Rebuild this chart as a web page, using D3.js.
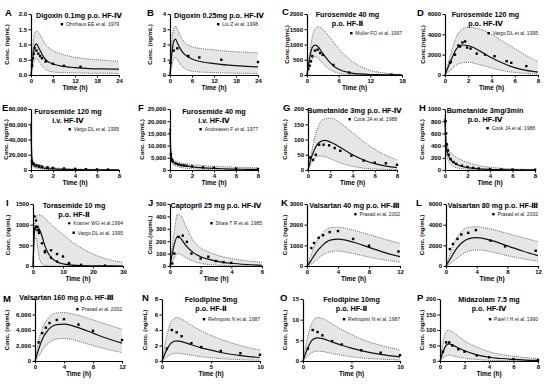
<!DOCTYPE html>
<html><head><meta charset="utf-8">
<script src="https://cdn.jsdelivr.net/npm/d3@7"></script>
<style>
body{margin:0;background:#fff}
svg{display:block}
text{font-family:"Liberation Sans",Arial,"DejaVu Sans",sans-serif}
</style>
</head><body>
<svg id="chart" width="550" height="388"></svg>
<script>
// ---------------- DATA ----------------
// A  Digoxin 0.1mg p.o. HF-IV
const A_t   = [0, 0.5, 1, 1.5, 2, 3, 4, 6, 8, 12, 16, 20, 24];
const A_med = [0, 0.55, 0.95, 1.02, 0.92, 0.68, 0.5, 0.36, 0.3, 0.24, 0.21, 0.2, 0.19];
const A_hi  = [0, 0.9, 1.35, 1.45, 1.4, 1.2, 1.0, 0.8, 0.7, 0.58, 0.52, 0.48, 0.45];
const A_lo  = [0, 0.25, 0.5, 0.55, 0.48, 0.3, 0.18, 0.1, 0.08, 0.07, 0.06, 0.06, 0.05];
const A_obsT = [0.25, 0.5, 0.75, 1, 1.5, 2, 2.5, 3, 4, 6, 9, 13.5];
const A_obsC = [0.3, 0.55, 0.7, 0.88, 0.8, 0.7, 0.62, 0.55, 0.44, 0.37, 0.3, 0.27];
// B  Digoxin 0.25mg
const B_t   = [0, 0.5, 1, 1.5, 2, 3, 4, 6, 8, 12, 16, 20, 24];
const B_med = [0, 1.4, 2.2, 2.35, 2.1, 1.65, 1.35, 1.05, 0.9, 0.75, 0.65, 0.58, 0.53];
const B_hi  = [0, 2.2, 3.0, 3.2, 3.0, 2.5, 2.15, 1.85, 1.75, 1.65, 1.55, 1.5, 1.45];
const B_lo  = [0, 0.6, 1.05, 1.15, 1.0, 0.65, 0.42, 0.25, 0.2, 0.16, 0.13, 0.11, 0.1];
const B_obsT = [0.1, 1, 2, 5, 8, 14, 24];
const B_obsC = [0.8, 1.6, 1.75, 1.25, 1.15, 1.0, 0.85];
// C  Furosemide 40 mg p.o. HF-II
const C_t   = [0, 0.5, 1, 1.5, 2, 3, 4, 5, 6, 8, 10, 12, 14, 16, 18];
const C_med = [0, 550, 900, 980, 940, 700, 480, 300, 190, 80, 35, 15, 8, 4, 2];
const C_hi  = [0, 700, 1250, 1500, 1580, 1500, 1300, 1080, 870, 520, 290, 150, 80, 40, 20];
const C_lo  = [0, 300, 530, 600, 560, 380, 220, 120, 60, 15, 4, 1, 0, 0, 0];
const C_obsT = [0.25, 0.5, 0.75, 1, 1.5, 2, 2.5, 3, 5, 8, 16];
const C_obsC = [200, 300, 450, 620, 800, 830, 720, 660, 330, 80, 10];
// D  Furosemide 120 mg p.o. HF-IV
const D_t   = [0, 0.5, 1, 1.5, 2, 3, 4, 5, 6, 7, 8];
const D_med = [0, 1400, 2600, 2950, 2900, 2350, 1700, 1150, 720, 450, 290];
const D_hi  = [0, 2100, 3800, 4500, 4700, 4500, 4000, 3300, 2600, 1900, 1300];
const D_lo  = [0, 500, 1000, 1200, 1250, 1000, 700, 420, 250, 150, 80];
const D_obsT = [0.43, 0.5, 0.86, 1.15, 1.3, 1.5, 1.73, 1.9, 2.2, 2.73, 3.45, 4.26, 5.3, 5.7, 7];
const D_obsC = [1200, 1300, 2000, 2900, 2800, 3200, 3300, 2700, 2600, 2100, 2000, 1850, 1360, 1200, 875];
// E  Furosemide 120 mg i.v. HF-IV
const E_t   = [0, 0.05, 0.1, 0.2, 0.3, 0.5, 0.75, 1, 1.5, 2, 3, 4, 5, 6, 7, 8];
const E_med = [60000, 25000, 12000, 7000, 5500, 4200, 3300, 2700, 1900, 1400, 800, 500, 300, 200, 130, 90];
const E_hi  = [62000, 30000, 16000, 10000, 8000, 6500, 5500, 4800, 3800, 3000, 2000, 1400, 1000, 750, 550, 400];
const E_lo  = [55000, 18000, 8000, 4000, 3000, 2200, 1600, 1200, 700, 450, 200, 90, 40, 20, 10, 5];
const E_obsT = [0.08, 0.17, 0.25, 0.5, 0.75, 1, 1.5, 2, 3, 4, 5, 6, 7];
const E_obsC = [12000, 9000, 8000, 6500, 5500, 4500, 3500, 2800, 2000, 1500, 1100, 800, 600];
// F  Furosemide 40 mg i.v. HF-IV
const F_t   = [0, 0.05, 0.1, 0.2, 0.3, 0.5, 0.75, 1, 1.5, 2, 3, 4, 5, 6, 7, 8];
const F_med = [17000, 9000, 6000, 4000, 3300, 2700, 2300, 2000, 1600, 1300, 900, 650, 480, 360, 270, 200];
const F_hi  = [18000, 11000, 7500, 5200, 4400, 3700, 3200, 2900, 2500, 2200, 1800, 1500, 1300, 1150, 1000, 900];
const F_lo  = [15000, 7000, 4500, 2800, 2200, 1700, 1300, 1050, 700, 480, 220, 100, 50, 25, 12, 6];
const F_obsT = [0.08, 0.17, 0.25, 0.5, 0.75, 1, 1.25, 1.5, 2, 3, 4, 6, 8];
const F_obsC = [6500, 4200, 3500, 2700, 2300, 2000, 1900, 1700, 1500, 1100, 900, 600, 400];
// G  Bumetanide 3mg p.o. HF-IV
const G_t   = [0, 0.25, 0.5, 1, 1.5, 2, 3, 4, 5, 6, 7, 8];
const G_med = [0, 35, 60, 90, 97, 92, 72, 50, 33, 21, 13, 8];
const G_hi  = [0, 45, 90, 150, 168, 170, 152, 122, 93, 68, 48, 33];
const G_lo  = [0, 18, 33, 46, 44, 37, 22, 12, 6, 3, 2, 1];
const G_obsT = [0.2, 0.45, 0.7, 1, 1.4, 1.9, 2.4, 2.9, 3.9, 5, 6, 7, 8];
const G_obsC = [41, 33, 50, 83, 83, 81, 72, 63, 47, 31, 24, 22, 17];
// H  Bumetanide 3mg/3min
const H_t   = [0, 0.05, 0.1, 0.2, 0.3, 0.5, 0.75, 1, 1.5, 2, 3, 4, 5, 6, 7, 8];
const H_med = [850, 550, 420, 300, 240, 170, 125, 95, 60, 40, 20, 10, 5, 3, 2, 1];
const H_hi  = [900, 650, 520, 410, 350, 290, 240, 210, 160, 125, 75, 45, 28, 18, 12, 8];
const H_lo  = [750, 400, 300, 200, 150, 95, 60, 40, 20, 10, 3, 1, 0, 0, 0, 0];
const H_obsT = [0.05, 0.1, 0.17, 0.25, 0.33, 0.5, 0.75, 1, 1.5, 2, 2.5, 3, 4, 5, 6, 8];
const H_obsC = [800, 600, 420, 320, 250, 180, 130, 100, 70, 50, 35, 25, 15, 10, 8, 5];
// I  Torasemide 10 mg p.o. HF-II
const I_t   = [0, 0.25, 0.5, 1, 1.5, 2, 2.5, 3, 4, 5, 6, 8, 10, 12, 16, 20, 25, 30];
const I_med = [0, 550, 820, 940, 940, 900, 830, 720, 480, 320, 210, 100, 50, 25, 8, 3, 1, 0];
const I_hi  = [0, 600, 950, 1150, 1220, 1240, 1230, 1210, 1150, 1080, 1010, 880, 760, 640, 440, 290, 160, 90];
const I_lo  = [0, 400, 620, 680, 480, 230, 110, 50, 10, 2, 0, 0, 0, 0, 0, 0, 0, 0];
const I_obsT1 = [0.5, 1, 1.5, 2, 3, 4, 6, 8, 12, 16, 24];
const I_obsC1 = [1200, 1100, 950, 850, 550, 330, 200, 110, 60, 30, 10];
const I_obsT2 = [0.5, 1, 1.5, 2, 4, 6, 8, 10, 12];
const I_obsC2 = [900, 950, 870, 800, 360, 380, 290, 230, 70];
// J  Captopril 25 mg p.o. HF-IV
const J_t   = [0, 0.25, 0.5, 0.75, 1, 1.5, 2, 2.5, 3, 4, 5, 6];
const J_med = [0, 160, 240, 215, 170, 110, 75, 55, 40, 22, 12, 6];
const J_hi  = [0, 250, 420, 400, 330, 210, 145, 115, 90, 60, 42, 30];
const J_lo  = [0, 60, 100, 90, 70, 40, 22, 13, 8, 3, 1, 0];
const J_obsT = [0.15, 0.28, 0.55, 0.83, 1.1, 1.4, 2, 2.5, 3, 3.5, 4];
const J_obsC = [20, 100, 235, 245, 195, 100, 60, 75, 40, 30, 25];
// K  Valsartan 40 mg p.o. HF-III
const K_t   = [0, 0.5, 1, 1.5, 2, 3, 4, 5, 6, 8, 10, 12];
const K_med = [0, 250, 550, 800, 1000, 1250, 1300, 1250, 1150, 900, 650, 450];
const K_hi  = [0, 500, 1000, 1350, 1600, 1850, 1880, 1820, 1730, 1520, 1300, 1100];
const K_lo  = [0, 80, 220, 380, 520, 690, 720, 680, 600, 430, 290, 190];
const K_obsT = [0.56, 0.9, 1.5, 2.07, 2.93, 4, 5.95, 8, 11.8];
const K_obsC = [870, 1115, 1360, 1490, 1640, 1690, 1310, 980, 700];
// L  Valsartan 80 mg p.o. HF-III
const L_t   = [0, 0.5, 1, 1.5, 2, 3, 4, 5, 6, 8, 10, 12];
const L_med = [0, 600, 1250, 1800, 2200, 2650, 2750, 2650, 2450, 1950, 1450, 1000];
const L_hi  = [0, 1100, 2100, 2850, 3350, 3750, 3800, 3700, 3550, 3150, 2750, 2350];
const L_lo  = [0, 200, 500, 800, 1050, 1450, 1550, 1500, 1350, 1000, 700, 480];
const L_obsT = [0.5, 0.9, 1.5, 2, 2.9, 3.9, 5.8, 7.7, 11.7];
const L_obsC = [1640, 2130, 2620, 3050, 3210, 3475, 2460, 1900, 1475];
// M  Valsartan 160 mg p.o. HF-III
const M_t   = [0, 0.5, 1, 1.5, 2, 3, 4, 5, 6, 8, 10, 12];
const M_med = [0, 1500, 2800, 3600, 4200, 4700, 4750, 4600, 4300, 3600, 2900, 2300];
const M_hi  = [0, 2600, 4200, 5100, 5700, 6200, 6250, 6100, 5900, 5300, 4700, 4100];
const M_lo  = [0, 600, 1400, 2000, 2400, 2850, 2900, 2800, 2550, 2000, 1500, 1100];
const M_obsT = [0.5, 1, 1.5, 2, 3, 4, 6, 8, 12];
const M_obsC = [2400, 3600, 4300, 4900, 5300, 5400, 4700, 3900, 2700];
// N  Felodipine 5mg p.o. HF-II
const N_t   = [0, 0.5, 1, 1.5, 2, 3, 4, 5, 6, 8, 10];
const N_med = [0, 1.5, 2.4, 2.6, 2.5, 2.1, 1.7, 1.4, 1.1, 0.7, 0.45];
const N_hi  = [0, 3.3, 5.2, 5.6, 5.4, 4.6, 3.9, 3.3, 2.8, 2.0, 1.4];
const N_lo  = [0, 0.5, 0.9, 1.0, 0.95, 0.75, 0.55, 0.42, 0.3, 0.18, 0.1];
const N_obsT = [0.5, 1, 1.5, 2, 3, 4, 6, 8, 10];
const N_obsC = [1.6, 4.0, 3.7, 3.2, 2.3, 1.8, 1.3, 1.0, 0.8];
// O  Felodipine 10mg p.o. HF-II
const O_t   = [0, 0.5, 1, 1.5, 2, 3, 4, 5, 6, 8, 10];
const O_med = [0, 3.2, 5.2, 5.6, 5.4, 4.6, 3.8, 3.1, 2.5, 1.6, 1.0];
const O_hi  = [0, 6.0, 9.5, 10.5, 10.3, 9.0, 7.6, 6.4, 5.3, 3.8, 2.7];
const O_lo  = [0, 1.2, 2.1, 2.4, 2.3, 1.8, 1.4, 1.0, 0.75, 0.45, 0.25];
const O_obsT = [0.5, 1, 1.5, 2, 3, 4, 6, 8, 10];
const O_obsC = [3, 7.5, 7, 6.2, 4.8, 4.0, 2.6, 2.0, 1.4];
// P  Midazolam 7.5 mg p.o. HF-IV
const P_t   = [0, 0.25, 0.5, 0.75, 1, 1.5, 2, 3, 4, 5, 6, 7, 8];
const P_med = [0, 30, 50, 55, 52, 42, 33, 20, 12, 8, 5, 3, 2];
const P_hi  = [0, 60, 95, 100, 95, 80, 65, 45, 30, 21, 15, 11, 8];
const P_lo  = [0, 10, 17, 19, 17, 13, 9, 5, 2, 1, 0.5, 0.3, 0.2];
const P_obsT = [0.25, 0.5, 0.75, 1, 1.5, 2, 3, 4, 6, 8];
const P_obsC = [30, 60, 60, 50, 38, 30, 18, 12, 6, 3];

// tick values
const yt_A = [0, 0.5, 1, 1.5, 2], yt_B = [0, 1, 2, 3, 4], yt_C = [0, 500, 1000, 1500, 2000];
const yt_D = [0, 2000, 4000, 6000], yt_E = [0, 20000, 40000, 60000, 80000];
const yt_F = [0, 5000, 10000, 15000, 20000, 25000], yt_G = [0, 50, 100, 150, 200];
const yt_H = [0, 200, 400, 600, 800, 1000], yt_I = [0, 500, 1000, 1500];
const yt_J = [0, 100, 200, 300, 400, 500], yt_K = [0, 1000, 2000, 3000];
const yt_L = [0, 2000, 4000, 6000], yt_M = [0, 2000, 4000, 6000, 8000];
const yt_N = [0, 2, 4, 6, 8], yt_O = [0, 5, 10, 15], yt_P = [0, 50, 100, 150, 200];
const xt_24 = [0, 6, 12, 18, 24], xt_18 = [0, 6, 12, 18], xt_8 = [0, 2, 4, 6, 8];
const xt_30 = [0, 10, 20, 30], xt_6 = [0, 2, 4, 6], xt_12 = [0, 4, 8, 12], xt_10 = [0, 5, 10];

// ---------------- PANELS (data refs + layout) ----------------
const f1 = d3.format(".1f"), fd = d3.format("d"), fc = d3.format(",");
const panels = [
 {L:'A', t:A_t, med:A_med, hi:A_hi, lo:A_lo, obs:[[A_obsT,A_obsC,'s']], leg:['Ohnhaus EE et al. 1979'], title:['Digoxin 0.1mg p.o. HF-Ⅳ'], yt:yt_A, xt:xt_24, fmt:f1, x0:31, x1:119, top:14, bot:75, ttl:4, tdx:4, lg:12, yl:7, lx:5, ly:16, yTitle:'Conc. (ng/mL)'},
 {L:'B', t:B_t, med:B_med, hi:B_hi, lo:B_lo, obs:[[B_obsT,B_obsC,'s']], leg:['Liu Z et al. 1998'], title:['Digoxin 0.25mg p.o. HF-Ⅳ'], yt:yt_B, xt:xt_24, fmt:fd, x0:170, x1:258, top:14, bot:75, ttl:4, tdx:5, lg:12, yl:150, lx:147, ly:16, yTitle:'Conc. (ng/mL)'},
 {L:'C', t:C_t, med:C_med, hi:C_hi, lo:C_lo, obs:[[C_obsT,C_obsC,'s']], leg:['Muller FO et al. 1997'], title:['Furosemide 40 mg','p.o. HF-Ⅱ'], yt:yt_C, xt:xt_18, fmt:fd, x0:307, x1:402, top:14, bot:75, ttl:3, tdx:-7, lg:21, yl:287, lx:282, ly:15, yTitle:'Conc.(ng/mL)'},
 {L:'D', t:D_t, med:D_med, hi:D_hi, lo:D_lo, obs:[[D_obsT,D_obsC,'s']], leg:['Vargo DL et al. 1995'], title:['Furosemide 120 mg','p.o. HF-Ⅳ'], yt:yt_D, xt:xt_8, fmt:fd, x0:445, x1:538, top:14, bot:75, ttl:3, tdx:-6, lg:21, yl:423, lx:417, ly:16, yTitle:'Conc.(ng/mL)'},
 {L:'E', t:E_t, med:E_med, hi:E_hi, lo:E_lo, obs:[[E_obsT,E_obsC,'s']], leg:['Vargo DL et al. 1995'], title:['Furosemide 120 mg','i.v. HF-Ⅳ'], yt:yt_E, xt:xt_8, fmt:fc, x0:31, x1:119, top:109, bot:170, ttl:5, tdx:-7, lg:22, yl:6, lx:2, ly:111, yTitle:'Conc. (ng/mL)'},
 {L:'F', t:F_t, med:F_med, hi:F_hi, lo:F_lo, obs:[[F_obsT,F_obsC,'s']], leg:['Andreasen F et al. 1977'], title:['Furosemide 40 mg','i.v. HF-Ⅳ'], yt:yt_F, xt:xt_8, fmt:fc, x0:170, x1:258, top:109, bot:170, ttl:5, tdx:0, lg:22, yl:142, lx:138, ly:111, yTitle:'Conc. (ng/mL)'},
 {L:'G', t:G_t, med:G_med, hi:G_hi, lo:G_lo, obs:[[G_obsT,G_obsC,'s']], leg:['Cook JA et al. 1988'], title:['Bumetanide 3mg p.o. HF-Ⅳ'], yt:yt_G, xt:xt_8, fmt:fd, x0:308, x1:397, top:109, bot:170, ttl:4, tdx:2, lg:12, yl:285, lx:283, ly:111, yTitle:'Conc. (ng/mL)'},
 {L:'H', t:H_t, med:H_med, hi:H_hi, lo:H_lo, obs:[[H_obsT,H_obsC,'s']], leg:['Cook JA et al. 1988'], title:['Bumetanide 3mg/3min','p.o. HF-Ⅳ'], yt:yt_H, xt:xt_8, fmt:fd, x0:445, x1:535, top:109, bot:170, ttl:4, tdx:-5, lg:21, yl:422, lx:419, ly:111, yTitle:'Conc. (ng/mL)'},
 {L:'I', t:I_t, med:I_med, hi:I_hi, lo:I_lo, obs:[[I_obsT1,I_obsC1,'c'],[I_obsT2,I_obsC2,'s']], leg:['Kramer WG et al.1994','Vargo DL et al. 1995'], title:['Torasemide 10 mg','p.o. HF-Ⅱ'], yt:yt_I, xt:xt_30, fmt:fd, x0:33, x1:123, top:204, bot:266, ttl:4, tdx:-4, lg:21, yl:8, lx:6, ly:206, yTitle:'Conc. (ng/mL)'},
 {L:'J', t:J_t, med:J_med, hi:J_hi, lo:J_lo, obs:[[J_obsT,J_obsC,'s']], leg:['Shaw T R et al. 1985'], title:['Captopril 25 mg p.o. HF-Ⅳ'], yt:yt_J, xt:xt_6, fmt:fd, x0:170, x1:262, top:204, bot:266, ttl:4, tdx:0, lg:21, yl:150, lx:148, ly:206, yTitle:'Conc.(ng/mL)'},
 {L:'K', t:K_t, med:K_med, hi:K_hi, lo:K_lo, obs:[[K_obsT,K_obsC,'s']], leg:['Prasad et al. 2002'], title:['Valsartan 40 mg p.o. HF-Ⅲ'], yt:yt_K, xt:xt_12, fmt:fd, x0:307, x1:400, top:204, bot:266, ttl:4, tdx:1, lg:12, yl:285, lx:281, ly:206, yTitle:'Conc. (ng/mL)'},
 {L:'L', t:L_t, med:L_med, hi:L_hi, lo:L_lo, obs:[[L_obsT,L_obsC,'s']], leg:['Prasad et al. 2002'], title:['Valsartan 80 mg p.o. HF-Ⅲ'], yt:yt_L, xt:xt_12, fmt:fd, x0:446, x1:538, top:204, bot:266, ttl:4, tdx:1, lg:12, yl:422, lx:416, ly:206, yTitle:'Conc. (ng/mL)'},
 {L:'M', t:M_t, med:M_med, hi:M_hi, lo:M_lo, obs:[[M_obsT,M_obsC,'s']], leg:['Prasad et al. 2002'], title:['Valsartan 160 mg p.o. HF-Ⅲ'], yt:yt_M, xt:xt_12, fmt:fc, x0:35, x1:122, top:299, bot:361, ttl:1, tdx:-12, lg:12, yl:7, lx:3, ly:302, yTitle:'Conc. (ng/mL)'},
 {L:'N', t:N_t, med:N_med, hi:N_hi, lo:N_lo, obs:[[N_obsT,N_obsC,'s']], leg:['Rehnqvist N et al. 1987'], title:['Felodipine 5mg','p.o. HF-Ⅱ'], yt:yt_N, xt:xt_10, fmt:fd, x0:162, x1:260, top:299, bot:361, ttl:3, tdx:0, lg:22, yl:145, lx:142, ly:301, yTitle:'Conc. (ng/mL)'},
 {L:'O', t:O_t, med:O_med, hi:O_hi, lo:O_lo, obs:[[O_obsT,O_obsC,'s']], leg:['Rehnqvist N et al. 1987'], title:['Felodipine 10mg','p.o. HF-Ⅱ'], yt:yt_O, xt:xt_10, fmt:fd, x0:303, x1:400, top:299, bot:361, ttl:3, tdx:0, lg:22, yl:285, lx:280, ly:301, yTitle:'Conc. (ng/mL)'},
 {L:'P', t:P_t, med:P_med, hi:P_hi, lo:P_lo, obs:[[P_obsT,P_obsC,'s']], leg:['Patel I H et al. 1990'], title:['Midazolam 7.5 mg','p.o. HF-Ⅳ'], yt:yt_P, xt:xt_8, fmt:fd, x0:440, x1:538, top:299, bot:361, ttl:3, tdx:0, lg:22, yl:422, lx:417, ly:301, yTitle:'Conc. (ng/mL)'}
];

// ---------------- DRAW ----------------
const svg = d3.select('#chart');
panels.forEach(p => {
  const g = svg.append('g');
  const x = d3.scaleLinear().domain([0, d3.max(p.xt)]).range([p.x0, p.x1]);
  const y = d3.scaleLinear().domain([0, d3.max(p.yt)]).range([p.bot, p.top]);
  const rows = p.t.map((t, i) => ({t, m: p.med[i], h: p.hi[i], l: p.lo[i]}));
  const cv = d3.curveMonotoneX;
  g.append('path').datum(rows)
    .attr('d', d3.area().x(d => x(d.t)).y0(d => y(d.l)).y1(d => y(d.h)).curve(cv))
    .attr('fill', '#e6e6e6');
  ['h', 'l'].forEach(k => {
    g.append('path').datum(rows)
      .attr('d', d3.line().x(d => x(d.t)).y(d => y(d[k])).curve(cv))
      .attr('fill', 'none').attr('stroke', '#555').attr('stroke-width', 0.9)
      .attr('stroke-dasharray', '1,1.1');
  });
  g.append('path').datum(rows)
    .attr('d', d3.line().x(d => x(d.t)).y(d => y(d.m)).curve(cv))
    .attr('fill', 'none').attr('stroke', '#111').attr('stroke-width', 1.2);
  // observations
  p.obs.forEach(([ts, cs, shape]) => {
    const pts = ts.map((t, i) => [t, cs[i]]);
    if (shape === 's') {
      g.selectAll(null).data(pts).enter().append('rect')
        .attr('x', d => x(d[0]) - 1.2).attr('y', d => y(d[1]) - 1.2)
        .attr('width', 2.4).attr('height', 2.4).attr('fill', '#000');
    } else {
      g.selectAll(null).data(pts).enter().append('circle')
        .attr('cx', d => x(d[0])).attr('cy', d => y(d[1])).attr('r', 1.3).attr('fill', '#000');
    }
  });
  // axes
  const yfmt = p.L === 'M' ? (v => v === 8000 ? '' : p.fmt(v)) : p.fmt;
  const ya = g.append('g').attr('transform', `translate(${p.x0},0)`)
    .call(d3.axisLeft(y).tickValues(p.yt).tickSize(2.5).tickSizeOuter(0).tickPadding(1.5).tickFormat(yfmt));
  const xa = g.append('g').attr('transform', `translate(0,${p.bot})`)
    .call(d3.axisBottom(x).tickValues(p.xt).tickSize(2.5).tickSizeOuter(0).tickPadding(1.5).tickFormat(fd));
  [ya, xa].forEach(a => {
    a.select('.domain').attr('stroke', '#000').attr('stroke-width', 1.2);
    a.selectAll('.tick line').attr('stroke', '#000').attr('stroke-width', 1);
    a.selectAll('.tick text').attr('font-family', '"Liberation Sans",Arial,sans-serif')
      .attr('font-size', 6).attr('font-weight', 'bold').attr('fill', '#000');
  });
  // axis titles
  g.append('text').attr('x', (p.x0 + p.x1) / 2).attr('y', p.bot + 15)
    .attr('text-anchor', 'middle').attr('font-size', 6.5).attr('font-weight', 'bold').text('Time (h)');
  g.append('text').attr('transform', `translate(${p.yl + 2},${(p.top + p.bot) / 2}) rotate(-90)`)
    .attr('text-anchor', 'middle').attr('font-size', 6).attr('font-weight', 'bold').text(p.yTitle);
  // panel letter
  g.append('text').attr('x', p.lx).attr('y', p.ly).attr('font-size', 9.5).attr('font-weight', 'bold').text(p.L);
  // title
  p.title.forEach((s, i) => {
    g.append('text').attr('x', (p.x0 + p.x1) / 2 + p.tdx).attr('y', p.top + p.ttl + i * 8.5)
      .attr('text-anchor', 'middle').attr('font-size', 7.2).attr('font-weight', 'bold').text(s);
  });
  // legend
  p.leg.forEach((s, i) => {
    const ly = p.top + p.lg + i * 9.5;
    const tx = g.append('text').attr('x', p.x1).attr('y', ly).attr('text-anchor', 'end')
      .attr('font-size', 5).attr('fill', '#222').text(s);
    const w = tx.node().getComputedTextLength();
    const mx = p.x1 - w - 4, my = ly - 1.8;
    if (p.obs[i][2] === 's') g.append('rect').attr('x', mx - 1.2).attr('y', my - 1.2).attr('width', 2.4).attr('height', 2.4);
    else g.append('circle').attr('cx', mx).attr('cy', my).attr('r', 1.2);
  });
});
</script>
</body></html>
